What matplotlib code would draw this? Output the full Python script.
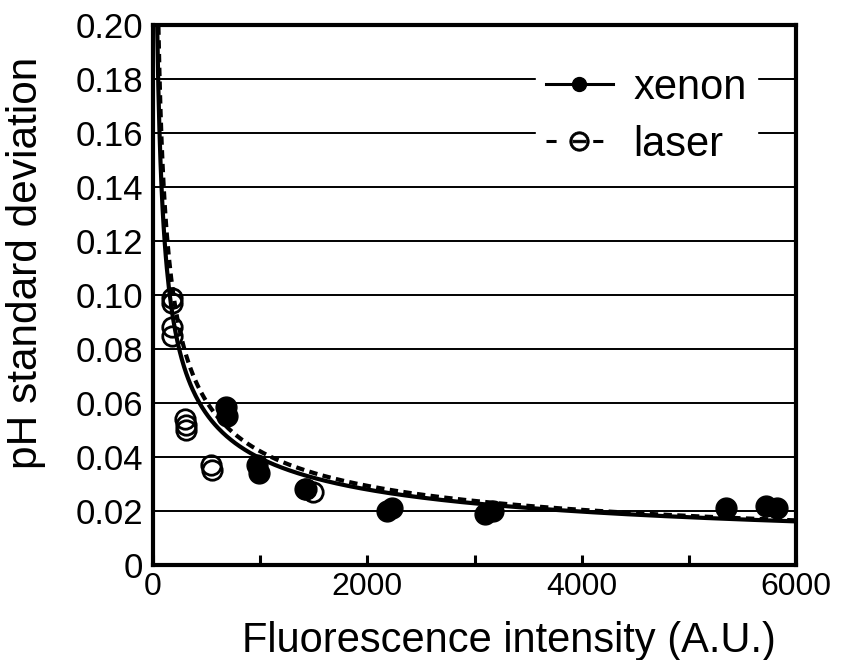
import numpy as np
import matplotlib.pyplot as plt
from matplotlib.lines import Line2D

plt.rcParams['font.family'] = ['Liberation Sans', 'DejaVu Sans']

# xenon (filled) measurements
xenon_x = [680, 690, 970, 990, 1420, 2180, 2230, 3100, 3170, 5350, 5720, 5820]
xenon_y = [0.0585, 0.055, 0.037, 0.034, 0.028, 0.020, 0.021, 0.019, 0.020, 0.021, 0.022, 0.021]

# laser (open) measurements
laser_x = [175, 180, 175, 180, 300, 310, 305, 540, 555, 1430, 1490]
laser_y = [0.099, 0.097, 0.088, 0.085, 0.054, 0.052, 0.050, 0.037, 0.035, 0.028, 0.027]

# power-law fit parameters y = a * x**b
xenon_fit = (1.25, -0.50)
laser_fit = (1.55, -0.522)

fig = plt.figure(figsize=(8.42, 6.6), dpi=100)
ax = fig.add_axes([0.1817, 0.144, 0.7637, 0.818])

xs = np.linspace(30, 6000, 600)
ax.plot(xs, xenon_fit[0] * xs ** xenon_fit[1], color='black', lw=3, zorder=3)
ax.plot(xs, laser_fit[0] * xs ** laser_fit[1], color='black', lw=3,
        ls=(0, (2, 1.3)), zorder=3)

ax.plot(xenon_x, xenon_y, 'o', color='black', ms=15, zorder=4)
ax.plot(laser_x, laser_y, 'o', mfc='none', mec='black', mew=2, ms=14, zorder=5)

ax.set_xlim(0, 6000)
ax.set_ylim(0, 0.2)
ax.set_xticks([0, 2000, 4000, 6000])
ax.set_xticks([1000, 3000, 5000], minor=True)
ax.set_yticks(np.arange(0, 0.201, 0.02))
ax.set_yticklabels(['0'] + ['%.2f' % v for v in np.arange(0.02, 0.201, 0.02)])
ax.yaxis.grid(True, color='black', lw=1.4)
ax.set_axisbelow(True)
ax.tick_params(axis='y', length=0, labelsize=25, pad=7)
ax.tick_params(axis='x', which='both', direction='in', length=7, width=2.2,
               labelsize=23, pad=5)
for s in ax.spines.values():
    s.set_linewidth(3)

ax.set_xlabel('Fluorescence intensity (A.U.)', fontsize=30)
ax.xaxis.set_label_coords(0.554, -0.103)
ax.set_ylabel('pH standard deviation', fontsize=30.5)
ax.yaxis.set_label_coords(-0.167, 0.56)

handles = [
    Line2D([], [], color='black', lw=2.2, marker='o', ms=10),
    Line2D([], [], color='black', lw=2.2, ls=(0, (3.3, 12)),
           marker='$\\ominus$', ms=14, mew=0.6),
]
leg = ax.legend(handles, ['xenon', 'laser'], loc='upper right',
                bbox_to_anchor=(0.94, 0.94), fontsize=30, frameon=True,
                framealpha=1, edgecolor='white', fancybox=False,
                handlelength=1.6, handletextpad=0.5, labelspacing=0.4,
                borderpad=0.25, borderaxespad=0)
leg.set_zorder(6)

fig.savefig('out.png', dpi=100)
